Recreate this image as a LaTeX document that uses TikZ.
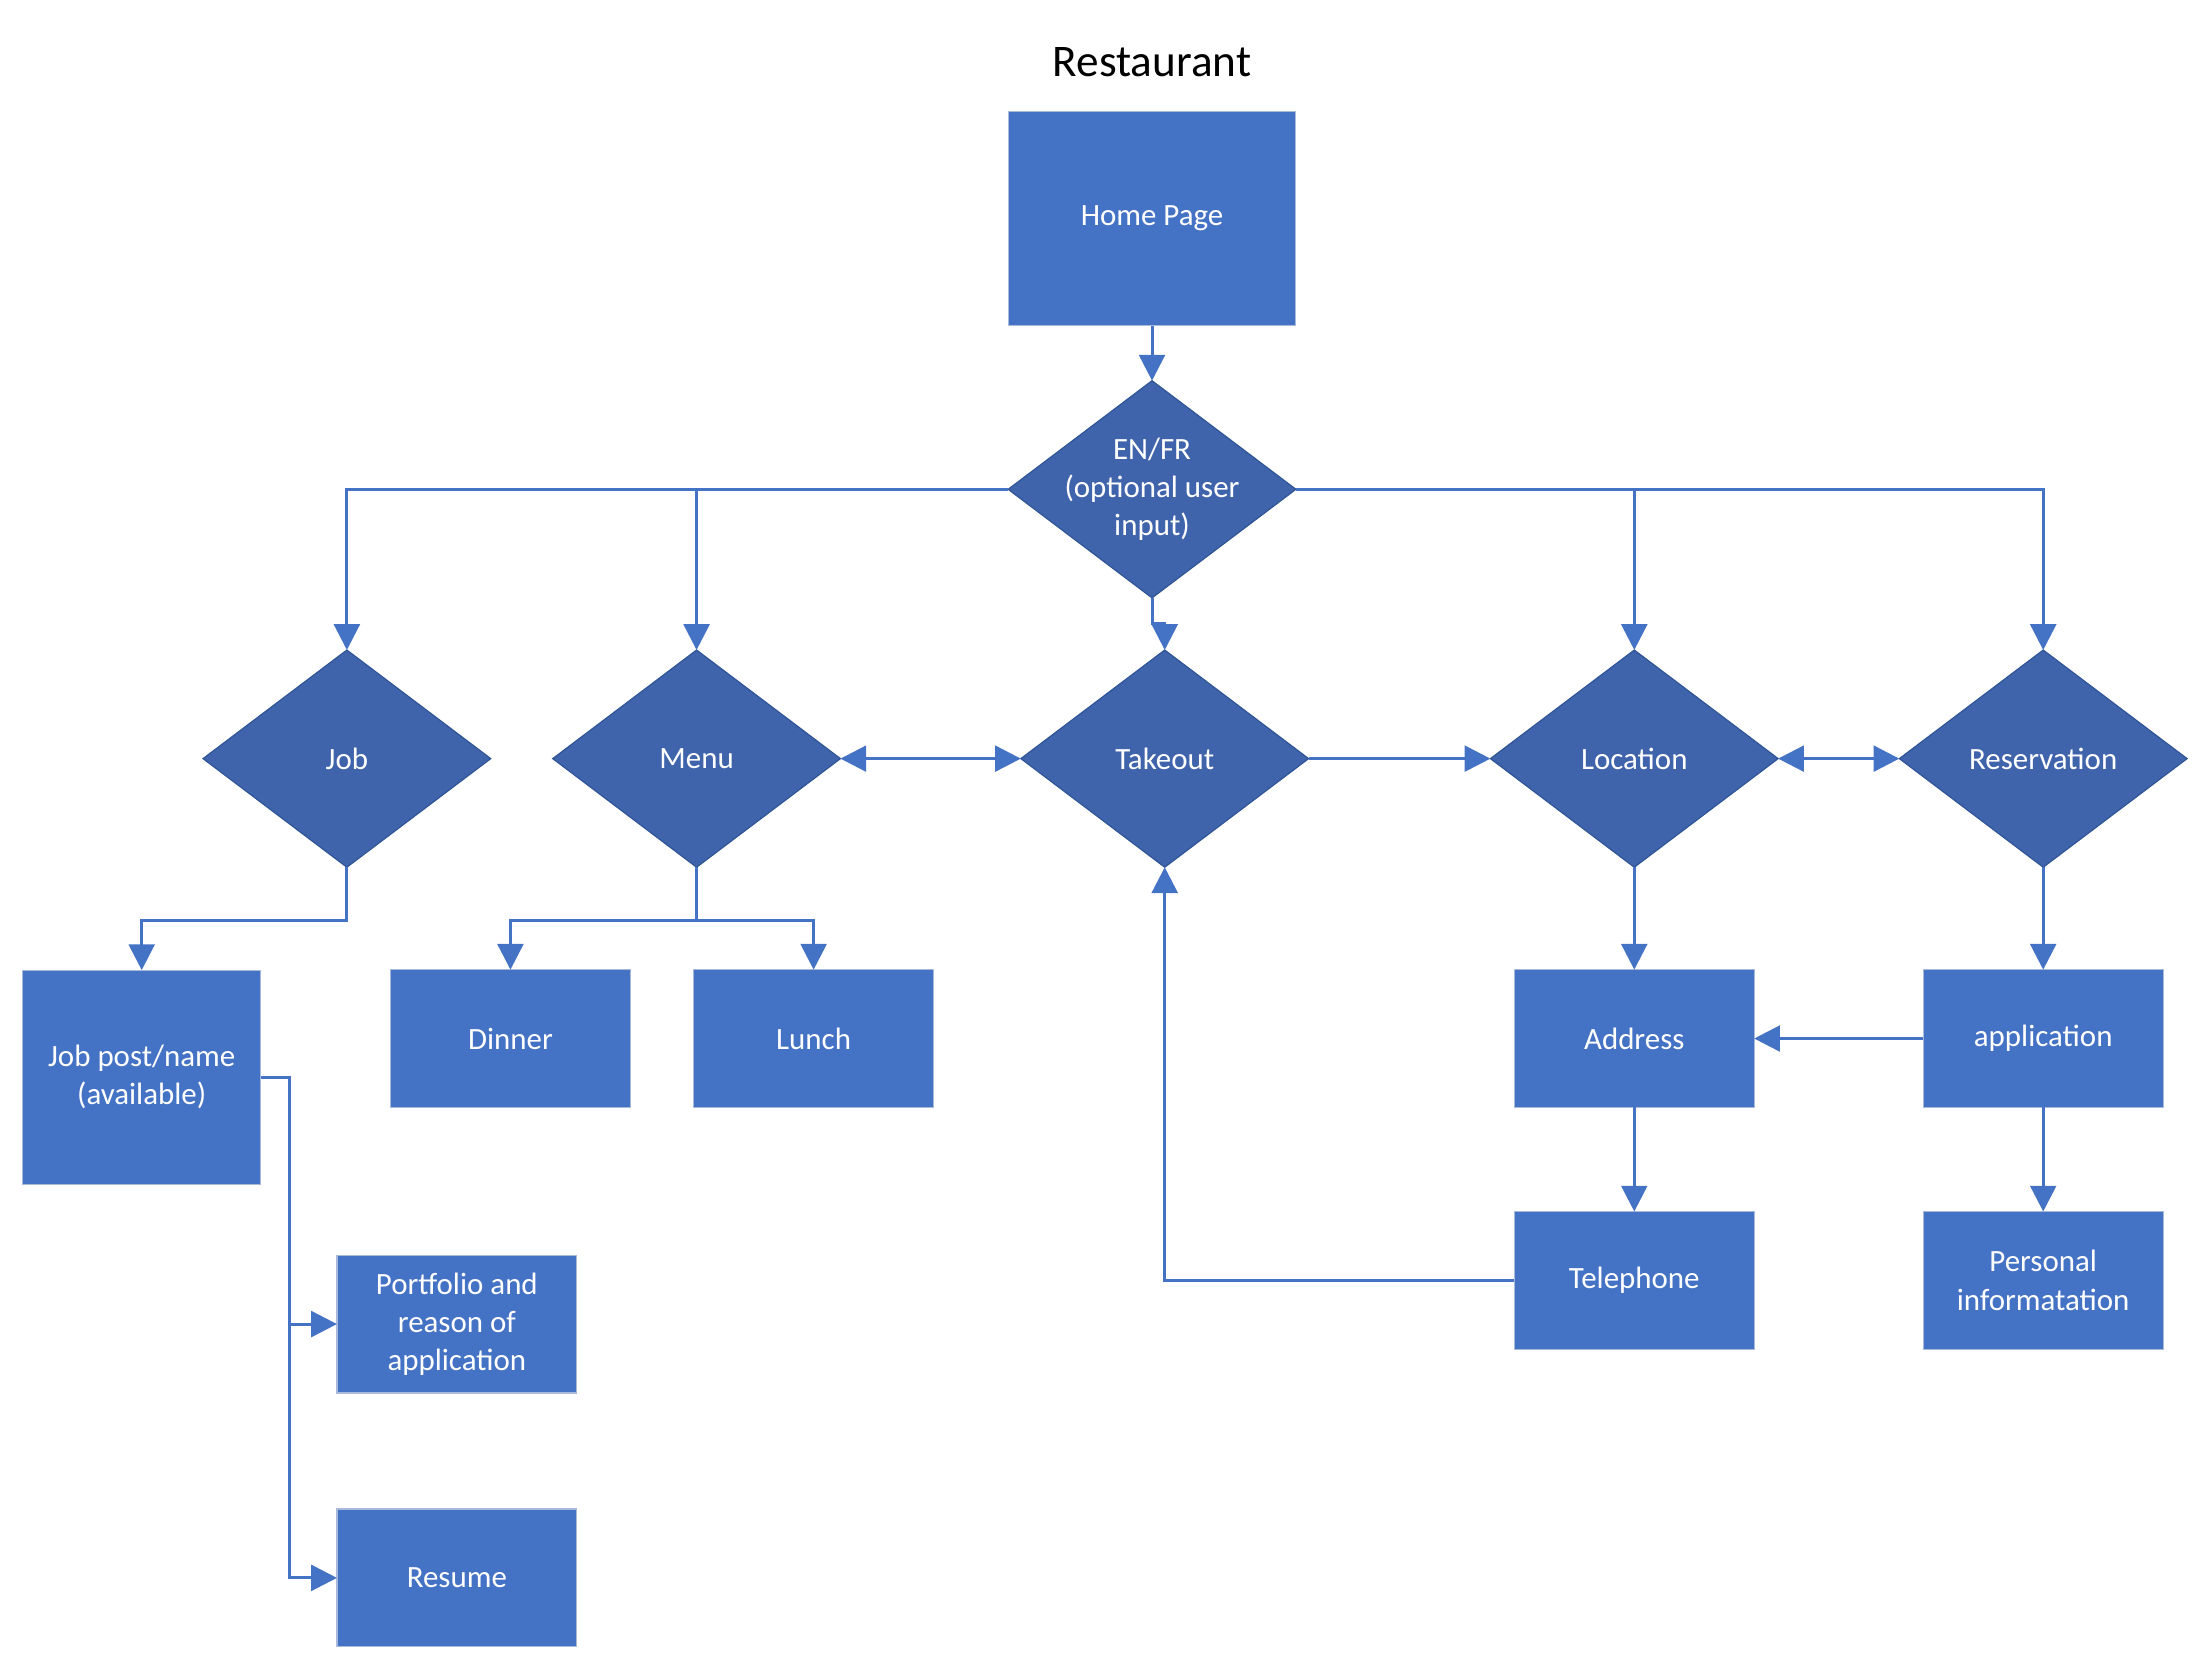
\documentclass[tikz,border=0pt]{standalone}
\usepackage{fontspec}
\setmainfont{Carlito}
\usetikzlibrary{arrows.meta,shapes.geometric}
\definecolor{flowblue}{HTML}{4472C4}
\definecolor{decblue}{HTML}{3F64AB}
\definecolor{decedge}{HTML}{2F5597}
\definecolor{boxedge}{HTML}{A9B9DC}
\newcommand{\flowfont}{\fontsize{15.6}{19.2}\selectfont}
\newcommand{\flowtitlefont}{\fontsize{22.8}{27}\selectfont}
\begin{document}
\begin{tikzpicture}[x=0.025cm, y=-0.025cm, >={Triangle[length=13pt,width=13pt]},
  box/.style={rectangle, draw=boxedge, line width=0.6pt, fill=flowblue, text=white, align=center, inner sep=0pt, outer sep=0pt, minimum width=4.25cm, minimum height=2.44cm, font=\flowfont},
  decision/.style={diamond, draw=decedge, line width=0.6pt, fill=decblue, text=white, align=center, inner sep=0pt, outer sep=0pt, minimum width=5.1cm, minimum height=3.85cm, font=\flowfont},
  link/.style={draw=flowblue, line width=1.5pt}]
\useasboundingbox (0,0) rectangle (1568,1184);
\node[font=\flowtitlefont] (title) at (817,44) {Restaurant};
\node[box, minimum width=5.075cm, minimum height=3.8cm] (home) at (817,155) {Home Page};
\node[decision, inner sep=-11pt] (lang) at (817,347) {EN/FR\\(optional user\\input)};
\node[decision] (job) at (246,538) {Job};
\node[decision] (menu) at (494,538) {Menu};
\node[decision] (takeout) at (826,538) {Takeout};
\node[decision] (location) at (1159,538) {Location};
\node[decision] (reserv) at (1449,538) {Reservation};
\node[box, minimum width=4.225cm, minimum height=3.8cm] (jobpost) at (100.5,764) {Job post/name\\(available)};
\node[box] (dinner) at (362,736.5) {Dinner};
\node[box] (lunch) at (577,736.5) {Lunch};
\node[box] (address) at (1159,736.5) {Address};
\node[box] (app) at (1449,736.5) {application};
\node[box] (phone) at (1159,908) {Telephone};
\node[box] (personal) at (1449,908) {Personal\\informatation};
\node[box] (portfolio) at (324,939) {Portfolio and\\reason of\\application};
\node[box] (resume) at (324,1119) {Resume};
\draw [link,->] (home) -- (lang) ;
\draw [link,->] (lang.west) -| (job.north) ;
\draw [link,->] (menu.north |- lang.west) -- (menu.north) ;
\draw [link,->] (lang.east) -| (reserv.north) ;
\draw [link,->] (location.north |- lang.east) -- (location.north) ;
\draw [link,->] (lang.south) -- ++(0,18) -| (takeout.north) ;
\draw [link,<->] (menu.east) -- (takeout.west) ;
\draw [link,->] (takeout.east) -- (location.west) ;
\draw [link,<->] (location.east) -- (reserv.west) ;
\draw [link,->] (job.south) -- ++(0,38) -| (jobpost.north) ;
\draw [link,->] (menu.south) -- ++(0,38) -| (dinner.north) ;
\draw [link,->] (menu.south) -- ++(0,38) -| (lunch.north) ;
\draw [link,->] (location.south) -- (address.north) ;
\draw [link,->] (reserv.south) -- (app.north) ;
\draw [link,->] (app.west) -- (address.east) ;
\draw [link,->] (address.south) -- (phone.north) ;
\draw [link,->] (app.south) -- (personal.north) ;
\draw [link,->] (phone.west) -| (takeout.south) ;
\draw [link,->] (jobpost.east) -- ++(20,0) |- (portfolio.west) ;
\draw [link,->] (jobpost.east) -- ++(20,0) |- (resume.west) ;
\end{tikzpicture}
\end{document}
